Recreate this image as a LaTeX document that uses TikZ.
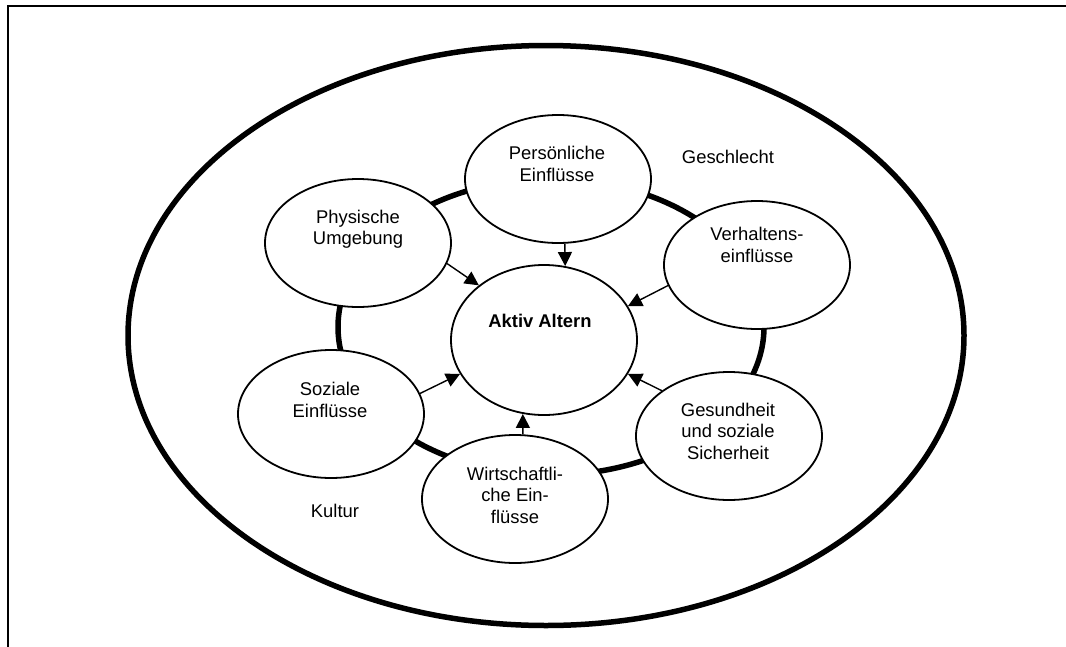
\documentclass[tikz,border=0pt]{standalone}
\usepackage{fontspec}
\setmainfont{Liberation Sans}
\usetikzlibrary{shapes.geometric,arrows.meta}
\begin{document}
\begin{tikzpicture}[x=1pt,y=-1pt,
  sat/.style={ellipse,draw,line width=1.8pt,fill=white,minimum width=186pt,minimum height=128pt,inner sep=0pt},
  ringline/.style={line width=5.5pt},
  lbl/.style={font=\fontsize{18.4}{21.5}\selectfont,align=center,inner sep=0pt},
  arr/.style={line width=1.4pt,-{Triangle[length=14pt,width=14pt]}}]
\useasboundingbox (0,0) rectangle (1066,646);
% frame
\draw[line width=2pt] (1070,6) -- (8,6) -- (8,650);
% outer ellipse
\draw[ringline] (546,335.5) ellipse [x radius=418, y radius=290];
% inner ring
\draw[ringline] (551,327) ellipse [x radius=213, y radius=148];
% satellites
\node[sat] (pers) at (558,179) {};
\node[sat] (phys) at (358,243) {};
\node[sat] (verh) at (757,265) {};
\node[sat] (soz)  at (331,414) {};
\node[sat] (ges)  at (729,436) {};
\node[sat] (wirt) at (515,499) {};
\node[sat,minimum height=150pt] (aktiv) at (544,340) {};
% arrows
\draw[arr] (pers.-84) -- (aktiv.74);
\draw[arr] (phys.-13) -- (aktiv.140);
\draw[arr] (verh.-167) -- (aktiv.22);
\draw[arr] (soz.13) -- (aktiv.-158);
\draw[arr] (ges.146) -- (aktiv.-22);
\draw[arr] (wirt.83) -- (aktiv.-106);
% labels
\node[lbl] (tpers) at (557,164) {Persönliche\\Einflüsse};
\node[lbl] (tphys) at (358,229) {Physische\\Umgebung};
\node[lbl] (tverh) at (757,245) {Verhaltens-\\einflüsse};
\node[lbl] (tsoz)  at (330,400) {Soziale\\Einflüsse};
\node[lbl] (tges)  at (728,431) {Gesundheit\\und soziale\\Sicherheit};
\node[lbl] (twirt) at (515,495) {Wirtschaftli-\\che Ein-\\flüsse};
\node[lbl,font=\fontsize{18.4}{21.5}\selectfont\bfseries] (takt) at (540,321) {Aktiv Altern};
\node[lbl] (geschl) at (728,157) {Geschlecht};
\node[lbl] (kult) at (335,511) {Kultur};
\end{tikzpicture}
\end{document}
